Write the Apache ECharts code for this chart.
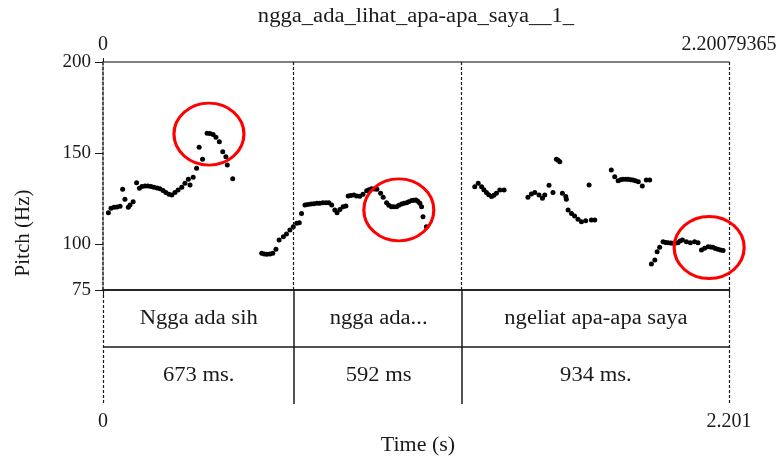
<!DOCTYPE html>
<html>
<head>
<meta charset="utf-8">
<script src="https://cdn.jsdelivr.net/npm/echarts@6/dist/echarts.min.js"></script>
<style>
  html, body { margin: 0; padding: 0; background: #fff; }
  #chart { width: 784px; height: 460px; }
</style>
</head>
<body>
<div id="chart"></div>
<script>
// pitch contour (time in s, pitch in Hz)
const pitchTimes = [
  0.019, 0.028, 0.039, 0.049, 0.060, 0.069, 0.077, 0.089, 0.095, 0.106,
  0.118, 0.128, 0.137, 0.148, 0.158, 0.169, 0.179, 0.190, 0.200, 0.211,
  0.221, 0.232, 0.242, 0.253, 0.264, 0.277, 0.288, 0.300, 0.306, 0.317,
  0.329, 0.338, 0.350, 0.366, 0.376, 0.387, 0.397, 0.409, 0.421, 0.432,
  0.437, 0.456,
  0.558, 0.567, 0.576, 0.587, 0.597, 0.608, 0.619, 0.634, 0.645, 0.657,
  0.669, 0.681, 0.690, 0.698, 0.710, 0.720, 0.731, 0.741, 0.752, 0.762,
  0.773, 0.784, 0.794, 0.804, 0.815, 0.823, 0.833, 0.844, 0.854, 0.862,
  0.871, 0.882, 0.892, 0.903, 0.914, 0.927, 0.935, 0.944, 0.954, 0.963,
  0.976, 0.985, 0.997, 1.005, 1.014, 1.022, 1.032, 1.040, 1.050, 1.058,
  1.067, 1.075, 1.085, 1.093, 1.100, 1.107, 1.114, 1.120, 1.125, 1.137,
  1.307, 1.319, 1.331, 1.339, 1.348, 1.356, 1.366, 1.374, 1.383, 1.395,
  1.410,
  1.494, 1.506, 1.518, 1.533, 1.545, 1.553, 1.568, 1.582, 1.594, 1.600,
  1.606, 1.615, 1.627, 1.629, 1.635, 1.647, 1.658, 1.670, 1.682, 1.697,
  1.709, 1.717, 1.729,
  1.787, 1.799, 1.811, 1.820, 1.828, 1.838, 1.846, 1.855, 1.863, 1.872,
  1.882, 1.896, 1.910, 1.922,
  1.928, 1.940, 1.948, 1.957, 1.969, 1.978, 1.986, 1.996, 2.004, 2.013,
  2.021, 2.029, 2.037, 2.051, 2.065, 2.080, 2.092, 2.104, 2.115, 2.127,
  2.136, 2.144, 2.153, 2.162, 2.171, 2.180
];
const pitchHz = [
  117.4, 119.8, 120.3, 120.5, 120.9, 130.2, 124.7, 120.3, 121.6, 123.4,
  133.8, 130.8, 131.7, 132.0, 132.0, 131.8, 131.3, 130.9, 130.5, 129.5,
  128.5, 127.5, 127.1, 128.4, 129.8, 131.3, 133.5, 135.7, 132.6, 136.8,
  141.7, 153.2, 146.7, 160.9, 160.8, 160.2, 158.7, 156.3, 150.8, 148.1,
  143.5, 136.0,
  95.1, 94.8, 94.6, 94.8, 95.1, 97.3, 102.4, 104.2, 105.7, 107.9,
  109.7, 111.6, 111.9, 117.0, 121.6, 121.9, 122.2, 122.3, 122.5, 122.6,
  122.9, 122.9, 122.9, 121.6, 118.9, 117.4, 119.2, 120.7, 121.1, 126.5,
  126.8, 127.1, 126.5, 126.4, 127.5, 129.4, 130.0, 130.5, 130.4, 130.2,
  128.0, 125.8, 122.9, 121.5, 120.7, 120.6, 120.7, 121.4, 122.2, 122.6,
  122.9, 123.4, 124.0, 124.2, 124.3, 123.6, 122.5, 120.7, 115.2, 109.7,
  131.6, 133.5, 131.6, 130.0, 128.4, 127.2, 126.2, 127.0, 128.0, 129.8,
  129.8,
  125.8, 127.6, 128.4, 127.1, 125.3, 127.1, 132.4, 128.4, 146.7, 146.2,
  145.3, 128.0, 126.2, 124.7, 118.9, 117.0, 115.6, 113.8, 112.4, 113.0,
  132.5, 113.4, 113.4,
  140.8, 137.1, 134.9, 135.4, 135.7, 135.7, 135.7, 135.5, 135.3, 134.9,
  134.4, 132.0, 135.3, 135.3,
  89.3, 91.4, 96.0, 98.4, 101.5, 101.0, 100.9, 100.7, 100.6, 100.8,
  100.9, 101.8, 102.4, 101.5, 100.9, 101.5, 100.9, 96.9, 97.9, 98.7,
  98.6, 98.4, 97.8, 97.3, 96.9, 96.6
];

// red circles drawn over the contour (centre in time / Hz)
const circleTimes = [0.3725, 1.040, 2.131];
const circleHz = [160.5, 118.9, 98.3];

// text grid
const tierStarts = [0, 0.673, 1.265];
const tierEnds = [0.673, 1.265, 2.20079365];
const tierWords = ["Ngga ada sih", "ngga ada...", "ngeliat apa-apa saya"];
const tierDurations = ["673 ms.", "592 ms", "934 ms."];

const pitchTicks = [75, 100, 150, 200];
const timeStart = 0;
const timeEnd = 2.20079365;
const chartTitle = "ngga_ada_lihat_apa-apa_saya__1_";

const serif = "Liberation Serif";
const ink = "#1a1a1a";
// the reference text is a little wider than plain Times
const stretch = 1.13;

const pitchPoints = pitchTimes.map(function (t, i) { return [t, pitchHz[i]]; });
const circlePoints = circleTimes.map(function (t, i) { return [t, circleHz[i]]; });
const tierCells = [];
tierStarts.forEach(function (s, i) {
  tierCells.push([s, tierEnds[i], 0, tierWords[i]]);
  tierCells.push([s, tierEnds[i], 1, tierDurations[i]]);
});

function plainText(text, x, y, rotation, scaleX) {
  return {
    type: "text",
    x: x,
    y: y,
    rotation: rotation,
    scaleX: scaleX,
    style: {
      text: text,
      fill: ink,
      font: "20px " + serif,
      textAlign: "center",
      textVerticalAlign: "middle"
    }
  };
}

const chart = echarts.init(document.getElementById("chart"), null, { renderer: "canvas" });

chart.setOption({
  backgroundColor: "#fff",
  animation: false,
  grid: [
    { left: 103, top: 62, width: 626, height: 228 },
    { left: 103, top: 290, width: 626, height: 114 }
  ],
  xAxis: [
    {
      gridIndex: 0,
      type: "value",
      position: "top",
      min: timeStart,
      max: timeEnd,
      axisLine: { show: true, lineStyle: { color: "#555", width: 1.5 } },
      axisTick: { show: true, customValues: [timeStart], length: 4, lineStyle: { color: ink } },
      axisLabel: {
        customValues: [timeStart, timeEnd],
        formatter: function (v) { return String(v); },
        color: ink,
        fontFamily: serif,
        fontSize: 20,
        margin: 7
      },
      splitLine: { show: false }
    },
    {
      gridIndex: 1,
      type: "value",
      position: "bottom",
      min: timeStart,
      max: timeEnd,
      axisLine: { show: true, lineStyle: { color: ink, width: 1.5 } },
      axisTick: { show: true, customValues: [timeStart, timeEnd], length: 5, lineStyle: { color: ink } },
      axisLabel: {
        customValues: [timeStart, timeEnd],
        formatter: function (v) { return v === 0 ? "0" : v.toFixed(3); },
        color: ink,
        fontFamily: serif,
        fontSize: 20,
        margin: 8
      },
      splitLine: { show: false }
    }
  ],
  yAxis: [
    {
      gridIndex: 0,
      type: "value",
      min: 75,
      max: 200,
      axisLine: { show: true, lineStyle: { color: ink, type: [3, 2], width: 1.5 } },
      axisTick: { show: true, customValues: pitchTicks, length: 8, lineStyle: { color: ink } },
      axisLabel: {
        customValues: pitchTicks,
        color: ink,
        fontFamily: serif,
        fontSize: 19,
        margin: 12
      },
      splitLine: { show: false }
    },
    {
      gridIndex: 1,
      type: "value",
      min: 0,
      max: 2,
      inverse: true,
      show: false
    }
  ],
  graphic: [
    plainText(chartTitle, 416, 17, 0, stretch),
    plainText("Pitch (Hz)", 24, 233, Math.PI / 2, 1.05),
    plainText("Time (s)", 418, 446, 0, 1.1)
  ],
  series: [
    {
      type: "scatter",
      xAxisIndex: 0,
      yAxisIndex: 0,
      data: pitchPoints,
      symbol: "circle",
      symbolSize: 5,
      itemStyle: { color: "#000", opacity: 1 },
      markLine: {
        silent: true,
        symbol: "none",
        label: { show: false },
        lineStyle: { color: ink, type: [3, 2], width: 1.2 },
        data: [{ xAxis: tierEnds[0] }, { xAxis: tierEnds[1] }, { xAxis: timeEnd }]
      }
    },
    {
      type: "scatter",
      xAxisIndex: 0,
      yAxisIndex: 0,
      data: circlePoints,
      symbol: "circle",
      symbolSize: [70, 62],
      z: 5,
      itemStyle: { color: "rgba(0,0,0,0)", borderColor: "#ff0000", borderWidth: 3, opacity: 1 }
    },
    {
      type: "custom",
      xAxisIndex: 1,
      yAxisIndex: 1,
      data: tierCells,
      renderItem: function (params, api) {
        const row = api.value(2);
        const a = api.coord([api.value(0), row + 0.5]);
        const b = api.coord([api.value(1), row + 0.5]);
        return plainText(tierCells[params.dataIndex][3], (a[0] + b[0]) / 2, a[1], 0, stretch);
      },
      markLine: {
        silent: true,
        symbol: "none",
        label: { show: false },
        lineStyle: { color: ink, type: "solid", width: 1.5 },
        data: [
          { yAxis: 0 },
          { yAxis: 1 },
          { xAxis: tierEnds[0] },
          { xAxis: tierEnds[1] },
          { xAxis: timeStart, lineStyle: { type: [3, 2], width: 1.2 } },
          { xAxis: timeEnd, lineStyle: { type: [3, 2], width: 1.2 } }
        ]
      }
    }
  ]
});
</script>
</body>
</html>
